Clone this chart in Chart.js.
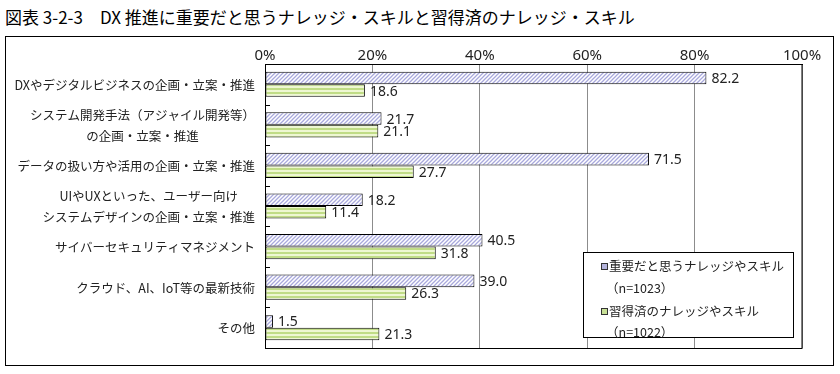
<!DOCTYPE html>
<html><head><meta charset="utf-8">
<script src="https://cdn.jsdelivr.net/npm/chart.js@4"></script>
<style>
html,body{margin:0;padding:0;background:#fff;}
body{width:840px;height:374px;position:relative;overflow:hidden;font-family:"Noto Sans CJK JP",sans-serif;}
#title{position:absolute;left:5px;top:5px;font-size:17px;color:#000;white-space:nowrap;line-height:24px;}
#frame{position:absolute;left:5px;top:36px;width:829px;height:330px;box-sizing:border-box;border:1.5px solid #000;}
#c{position:absolute;left:0;top:0;}
#legend{position:absolute;left:583px;top:252px;width:211px;height:86px;box-sizing:border-box;border:1px solid #000;background:#fff;font-size:12.5px;color:#222;}
#legend .ln{position:absolute;white-space:nowrap;line-height:16px;}
#legend .sq{display:inline-block;width:5px;height:5px;border:1px solid #333;margin-right:1px;vertical-align:1px;}
</style></head>
<body>
<div id="title">図表 3-2-3　DX 推進に重要だと思うナレッジ・スキルと習得済のナレッジ・スキル</div>
<div id="frame"></div>
<canvas id="c" width="840" height="374"></canvas>
<div id="legend"></div>
<script>
const categories = [
  ['DXやデジタルビジネスの企画・立案・推進'],
  ['システム開発手法（アジャイル開発等）','の企画・立案・推進'],
  ['データの扱い方や活用の企画・立案・推進'],
  ['UIやUXといった、ユーザー向け','システムデザインの企画・立案・推進'],
  ['サイバーセキュリティマネジメント'],
  ['クラウド、AI、IoT等の最新技術'],
  ['その他']
];
const important = [82.2, 21.7, 71.5, 18.2, 40.5, 39.0, 1.5];
const acquired  = [18.6, 21.1, 27.7, 11.4, 31.8, 26.3, 21.3];
const xTicks = [0, 20, 40, 60, 80, 100];
const seriesNames = ['重要だと思うナレッジやスキル', '習得済のナレッジやスキル'];
const seriesN = ['（n=1023）', '（n=1022）'];

function hatchPattern(){
  const t=document.createElement('canvas'); t.width=4; t.height=4;
  const g=t.getContext('2d');
  g.fillStyle='#ffffff'; g.fillRect(0,0,4,4);
  g.strokeStyle='#a8a8dc'; g.lineWidth=1.25;
  g.beginPath();
  g.moveTo(-1,5); g.lineTo(5,-1);
  g.moveTo(-1,1); g.lineTo(1,-1);
  g.moveTo(3,5); g.lineTo(5,3);
  g.stroke();
  return g.createPattern(t,'repeat');
}
function stripePattern(){
  const t=document.createElement('canvas'); t.width=4; t.height=4;
  const g=t.getContext('2d');
  g.fillStyle='#eef7d2'; g.fillRect(0,0,4,4);
  g.fillStyle='#c0dc86'; g.fillRect(0,0,4,2);
  return g.createPattern(t,'repeat');
}
const fills=[hatchPattern(), stripePattern()];
const swatch=['#b4b4dc','#c8e096'];

// legend
const lg=document.getElementById('legend');
const rows=[13,35,58,79];
seriesNames.forEach((n,i)=>{
  const a=document.createElement('div'); a.className='ln';
  a.style.left='17px'; a.style.top=(rows[i*2]-8)+'px';
  a.innerHTML='<span class="sq" style="background:'+swatch[i]+'"></span>'+n;
  lg.appendChild(a);
  const b=document.createElement('div'); b.className='ln';
  b.style.left='22px'; b.style.top=(rows[i*2+1]-8)+'px';
  b.textContent=seriesN[i];
  lg.appendChild(b);
});

const framePlugin={
  id:'framePlugin',
  afterDatasetsDraw(chart){
    const ctx=chart.ctx, a=chart.chartArea, ys=chart.scales.y;
    ctx.save();
    ctx.strokeStyle='#000'; ctx.lineWidth=1;
    ctx.strokeRect(Math.round(a.left)+0.5, Math.round(a.top)+0.5, Math.round(a.right-a.left)-0.5, Math.round(a.bottom-a.top));
    const n=chart.data.labels.length, h=(a.bottom-a.top)/n;
    ctx.beginPath();
    for(let k=1;k<n;k++){
      const y=Math.round(a.top+k*h)+0.5;
      ctx.moveTo(a.left,y); ctx.lineTo(a.left+5,y);
    }
    ctx.stroke();
    // category labels
    ctx.font='12.5px "Noto Sans CJK JP"'; ctx.fillStyle='#222';
    ctx.textBaseline='middle'; ctx.textAlign='center';
    const right=a.left-10, lh=21;
    chart.data.labels.forEach((lines,i)=>{
      const y=ys.getPixelForValue(i)+1;
      const w=Math.max(...lines.map(l=>ctx.measureText(l).width));
      const cx=right-w/2;
      lines.forEach((l,j)=>ctx.fillText(l,cx,y+(j-(lines.length-1)/2)*lh));
    });
    // value labels
    ctx.font='14px "Noto Sans"'; ctx.textAlign='left'; ctx.fillStyle='#222';
    chart.data.datasets.forEach((ds,di)=>{
      chart.getDatasetMeta(di).data.forEach((bar,i)=>{
        ctx.fillText(ds.data[i].toFixed(1), bar.x+5, bar.y+1);
      });
    });
    ctx.restore();
  }
};

new Chart(document.getElementById('c'),{
  type:'bar',
  data:{
    labels:categories,
    datasets:[
      {label:seriesNames[0]+seriesN[0], data:important, backgroundColor:fills[0], borderColor:'#000', borderWidth:1, borderSkipped:false},
      {label:seriesNames[1]+seriesN[1], data:acquired, backgroundColor:fills[1], borderColor:'#000', borderWidth:1, borderSkipped:false}
    ]
  },
  options:{
    indexAxis:'y',
    responsive:false,
    animation:false,
    devicePixelRatio:1,
    categoryPercentage:0.62,
    barPercentage:1.0,
    layout:{padding:{left:0,top:0,right:38,bottom:26}},
    plugins:{legend:{display:false},tooltip:{enabled:false},title:{display:false}},
    scales:{
      x:{
        position:'top', min:0, max:100,
        afterBuildTicks:s=>{s.ticks=xTicks.map(v=>({value:v}));},
        afterFit:s=>{s.height=64;},
        ticks:{callback:v=>v+'%', color:'#222', font:{size:15,family:'"Noto Sans"'}, padding:-1, maxRotation:0},
        grid:{color:'#8c8c8c', drawTicks:false, lineWidth:1},
        border:{display:true,color:'#000',width:1}
      },
      y:{
        afterFit:s=>{s.width=265;},
        ticks:{display:false},
        grid:{display:false},
        border:{display:true,color:'#000',width:1}
      }
    }
  },
  plugins:[framePlugin]
});
</script>
</body></html>
